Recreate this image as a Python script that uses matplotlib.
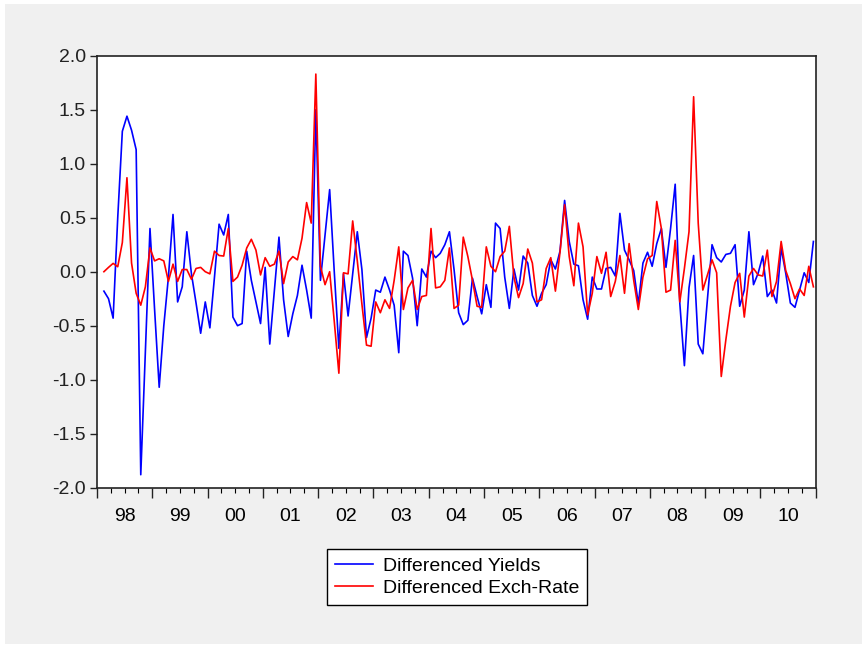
import numpy as np
import pandas as pd
import matplotlib
matplotlib.use("Agg")
import matplotlib.pyplot as plt
from matplotlib.patches import Rectangle

plt.rcParams['font.family'] = ['Liberation Sans', 'DejaVu Sans']

# monthly observations, 1998M02 .. 2010M12
months = pd.period_range('1998-02', '2010-12', freq='M')

d_yields = [
    -0.18, -0.25, -0.43, 0.50, 1.30, 1.44, 1.31, 1.13, -1.88, -0.74,
    0.40, -0.35, -1.07, -0.50, -0.05, 0.53, -0.28, -0.14, 0.37, -0.02,
    -0.29, -0.57, -0.28, -0.52, -0.05, 0.44, 0.34, 0.53, -0.42, -0.50,
    -0.48, 0.19, -0.08, -0.28, -0.48, 0.04, -0.67, -0.17, 0.32, -0.26,
    -0.60, -0.39, -0.22, 0.06, -0.17, -0.43, 1.50, -0.08, 0.34, 0.76,
    0.00, -0.71, -0.02, -0.41, -0.02, 0.37, 0.02, -0.61, -0.43, -0.17,
    -0.19, -0.05, -0.17, -0.31, -0.75, 0.19, 0.15, -0.06, -0.50, 0.025,
    -0.05, 0.19, 0.13, 0.17, 0.25, 0.37, 0.02, -0.38, -0.49, -0.45,
    -0.06, -0.23, -0.39, -0.12, -0.33, 0.45, 0.40, -0.05, -0.34, 0.025,
    -0.17, 0.145, 0.08, -0.22, -0.32, -0.20, -0.12, 0.11, 0.025, 0.19,
    0.66, 0.28, 0.07, 0.055, -0.26, -0.44, -0.05, -0.16, -0.16, 0.03,
    0.04, -0.04, 0.54, 0.20, 0.11, 0.01, -0.30, 0.08, 0.18, 0.05,
    0.26, 0.40, 0.04, 0.40, 0.81, -0.29, -0.87, -0.15, 0.15, -0.67,
    -0.76, -0.26, 0.25, 0.13, 0.09, 0.16, 0.17, 0.25, -0.32, -0.17,
    0.37, -0.12, -0.015, 0.145, -0.23, -0.17, -0.29, 0.22, -0.015, -0.29,
    -0.33, -0.17, -0.01, -0.10, 0.28,
]

d_exch = [
    0.00, 0.04, 0.077, 0.046, 0.27, 0.87, 0.08, -0.20, -0.31, -0.14,
    0.22, 0.10, 0.12, 0.10, -0.09, 0.07, -0.09, 0.02, 0.02, -0.07,
    0.03, 0.04, 0.00, -0.02, 0.19, 0.15, 0.145, 0.40, -0.09, -0.05,
    0.06, 0.22, 0.30, 0.20, -0.03, 0.13, 0.05, 0.07, 0.19, -0.11,
    0.09, 0.14, 0.11, 0.31, 0.64, 0.45, 1.83, 0.05, -0.12, 0.00,
    -0.46, -0.94, -0.01, -0.02, 0.47, 0.10, -0.30, -0.68, -0.69, -0.28,
    -0.38, -0.26, -0.34, -0.08, 0.23, -0.35, -0.15, -0.08, -0.35, -0.23,
    -0.22, 0.40, -0.15, -0.14, -0.08, 0.22, -0.34, -0.31, 0.32, 0.14,
    -0.08, -0.32, -0.33, 0.23, 0.05, 0.00, 0.14, 0.19, 0.42, -0.05,
    -0.24, -0.11, 0.21, 0.08, -0.28, -0.26, 0.03, 0.13, -0.18, 0.18,
    0.62, 0.14, -0.13, 0.45, 0.23, -0.40, -0.20, 0.14, -0.015, 0.18,
    -0.23, -0.09, 0.15, -0.20, 0.26, -0.08, -0.35, -0.05, 0.12, 0.15,
    0.65, 0.40, -0.19, -0.17, 0.29, -0.28, 0.03, 0.37, 1.62, 0.45,
    -0.17, -0.03, 0.11, -0.01, -0.97, -0.63, -0.32, -0.10, -0.015, -0.42,
    -0.04, 0.03, -0.03, -0.04, 0.20, -0.23, -0.09, 0.28, 0.01, -0.11,
    -0.25, -0.16, -0.22, 0.05, -0.14,
]

years = list(range(1998, 2011))
year_labels = ['98', '99', '00', '01', '02', '03', '04', '05', '06', '07', '08', '09', '10']

# place each month at the middle of its period, like EViews does
x = months.year + (months.month - 0.5) / 12

fig = plt.figure(figsize=(8.67, 6.48), dpi=100, facecolor='white')
fig.patches.append(Rectangle((5 / 867, 4 / 648), 857 / 867, 640 / 648,
                             transform=fig.transFigure, facecolor='#f0f0f0',
                             edgecolor='none', zorder=-10))

ax = fig.add_axes([97 / 867, 1 - 487.7 / 648, 718.7 / 867, 432 / 648])
ax.set_zorder(1)
ax.plot(x, d_yields, color='#0000ff', lw=1.2, label='Differenced Yields')
ax.plot(x, d_exch, color='#ff0000', lw=1.2, label='Differenced Exch-Rate')

ax.set_xlim(1998, 2011)
ax.set_ylim(-2.0, 2.0)
ax.set_yticks(np.arange(-2.0, 2.01, 0.5))
ax.set_yticklabels([f'{v:.1f}' for v in np.arange(-2.0, 2.01, 0.5)])

ax.set_xticks(years + [2011])
ax.set_xticklabels([])
ax.set_xticks(np.arange(1998, 2011.01, 0.25), minor=True)
for yr, lab in zip(years, year_labels):
    ax.annotate(lab, xy=(yr + 0.5, 0), xycoords=('data', 'axes fraction'),
                xytext=(0, -20.5), textcoords='offset points',
                ha='center', va='center', fontsize=14)

ax.tick_params(axis='y', direction='out', length=5, width=1, labelsize=14, pad=3)
ax.tick_params(axis='x', which='major', direction='out', length=7, width=1)
ax.tick_params(axis='x', which='minor', direction='out', length=3.6, width=0.8)
ax.tick_params(axis='both', colors='#222222')
for s in ax.spines.values():
    s.set_color('#222222')
    s.set_linewidth(1.2)

leg = fig.legend(loc='center', bbox_to_anchor=(457 / 867, 1 - 577 / 648),
                 fontsize=14, frameon=True, fancybox=False, handlelength=2.0,
                 labelspacing=0.25, borderpad=0.4, handletextpad=0.5)
leg.get_frame().set_edgecolor('black')
leg.get_frame().set_linewidth(1.0)
leg.get_frame().set_alpha(1.0)

fig.savefig('out.png', dpi=100, facecolor=fig.get_facecolor())
